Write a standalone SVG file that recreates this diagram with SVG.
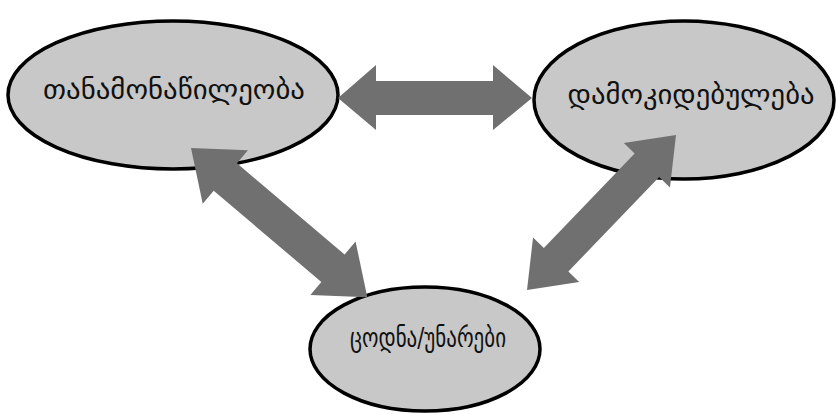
<svg xmlns="http://www.w3.org/2000/svg" width="837" height="414" viewBox="0 0 837 414">
<style>
.node{fill:#c8c8c8;stroke:#000;stroke-width:3.5}
.lbl{font-family:"DejaVu Sans","Noto Sans",sans-serif;font-size:27px;fill:#111;text-anchor:middle}
.arr{fill:#707070}
</style>
<rect width="837" height="414" fill="#fff"/>
<g id="node-participation">
<ellipse class="node" cx="173" cy="95" rx="165" ry="74"/>
<text class="lbl" x="174" y="99" textLength="262" lengthAdjust="spacingAndGlyphs">თანამონაწილეობა</text>
</g>
<g id="node-attitude">
<ellipse class="node" cx="684" cy="100" rx="150" ry="79"/>
<text class="lbl" x="691" y="104" textLength="247" lengthAdjust="spacingAndGlyphs">დამოკიდებულება</text>
</g>
<g id="node-knowledge">
<ellipse class="node" cx="425" cy="349" rx="115" ry="62"/>
<text class="lbl" x="428" y="347" textLength="156" lengthAdjust="spacingAndGlyphs">ცოდნა/უნარები</text>
</g>
<g id="connectors">
<polygon class="arr" points="338,98 376,65 376,81 493,81 493,65 532,98 493,130 493,115 376,115 376,130"/>
<polygon class="arr" transform="translate(191,148) rotate(40.25)" points="0,0 45,-35 45,-18 186,-18 186,-35 231,0 186,35 186,18 45,18 45,35"/>
<polygon class="arr" transform="translate(527,290) rotate(-46.13)" points="0,0 42,-32 42,-17 173,-17 173,-32 215,0 173,32 173,17 42,17 42,32"/>
</g>
</svg>
